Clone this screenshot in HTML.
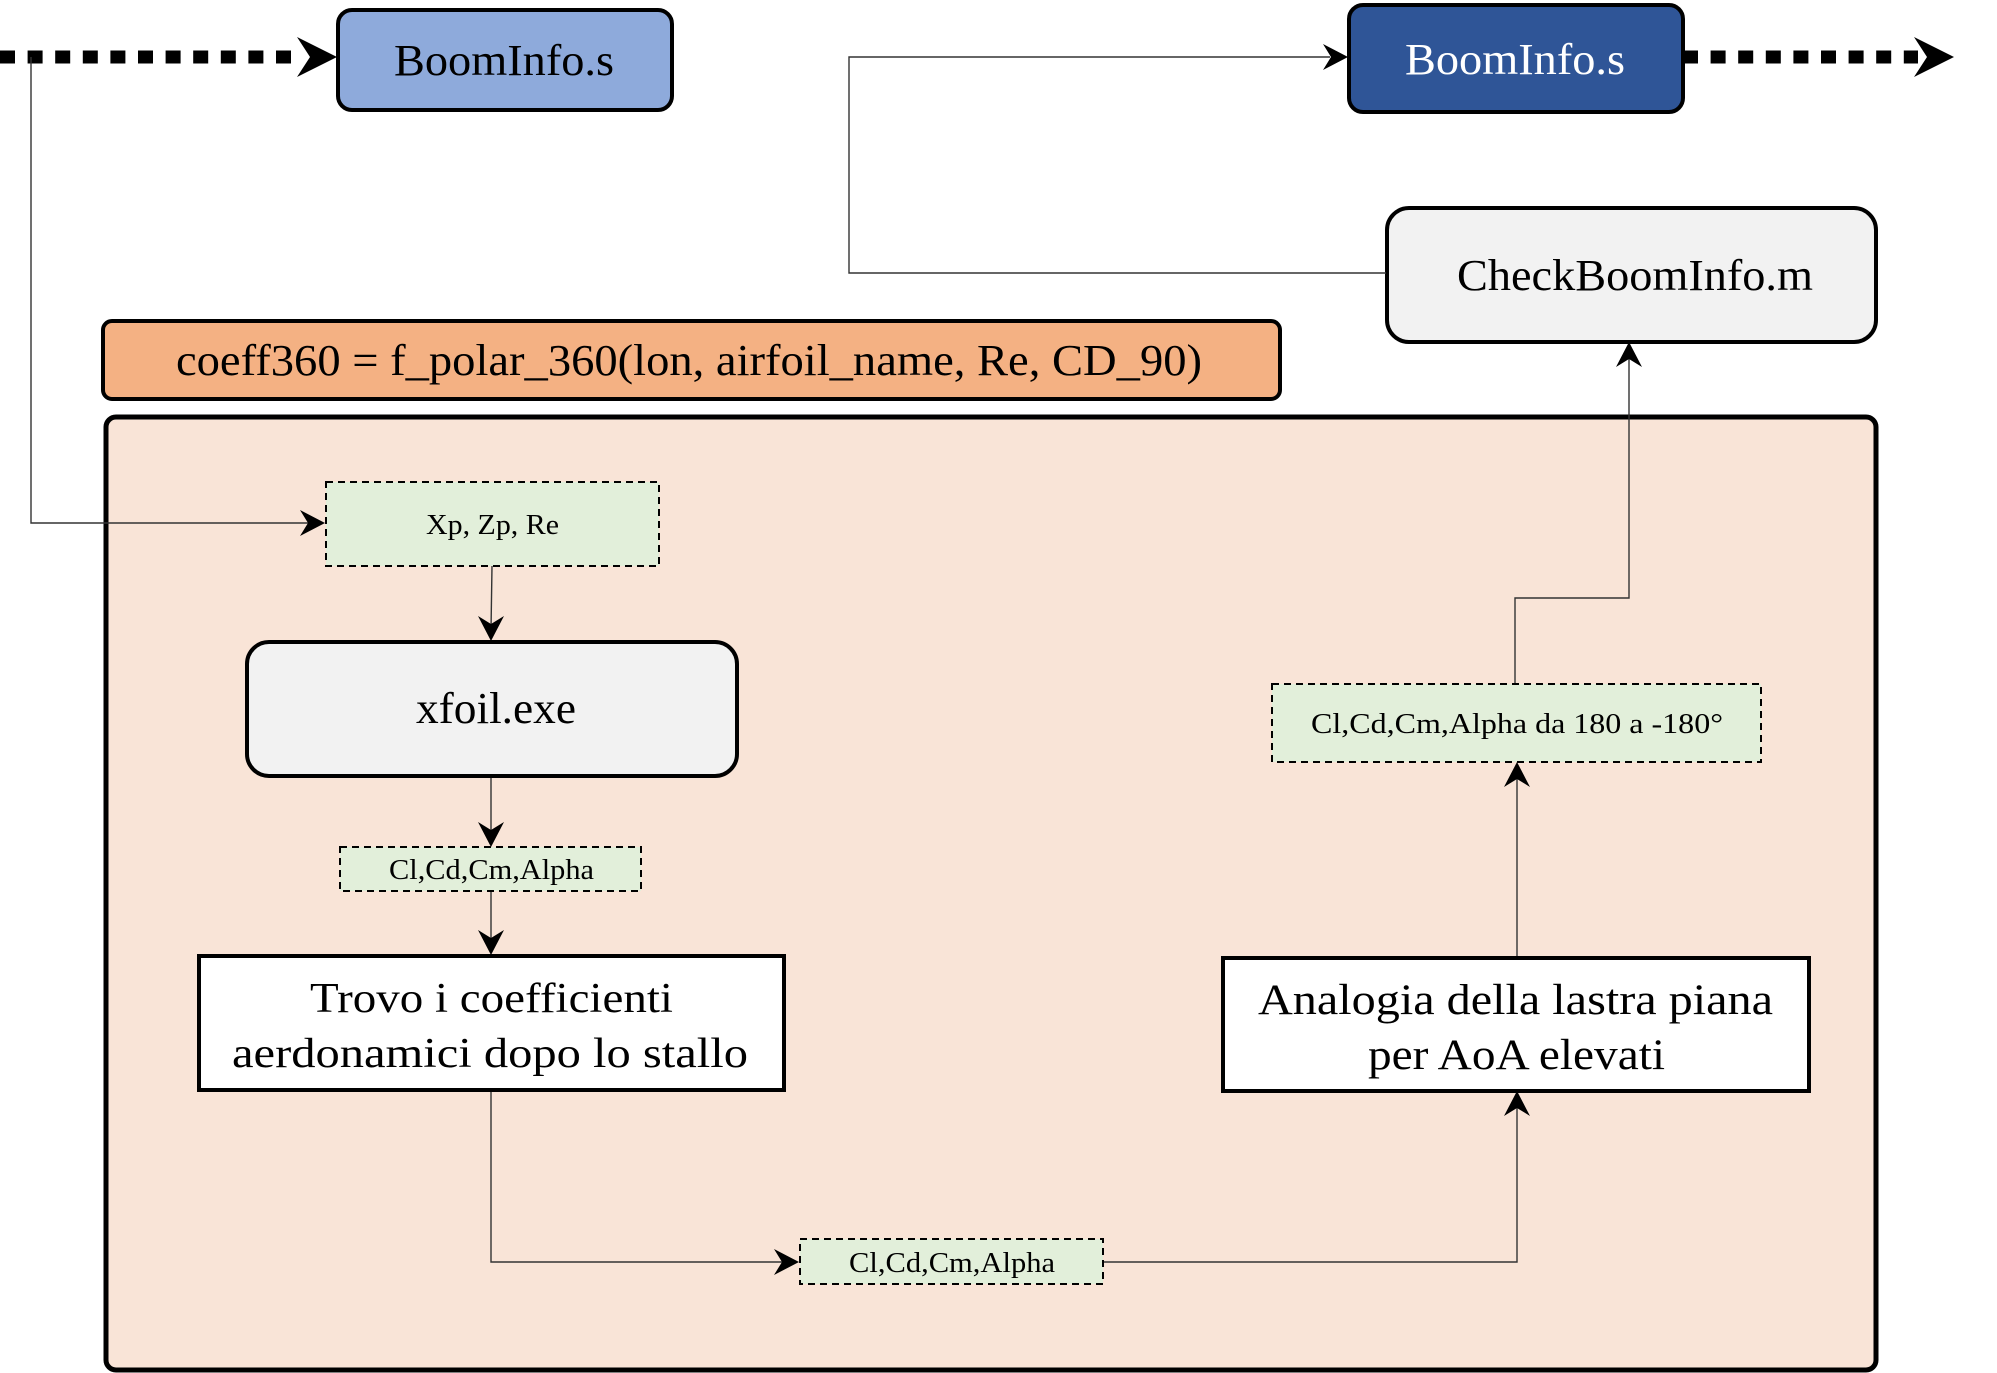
<!DOCTYPE html>
<html><head><meta charset="utf-8"><style>
html,body{margin:0;padding:0;background:#fff;}
svg{display:block;}
text{font-family:"Liberation Serif",serif;fill:#000;}
</style></head><body>
<svg width="1997" height="1373" viewBox="0 0 1997 1373" xmlns="http://www.w3.org/2000/svg">
<rect x="106" y="417" width="1770" height="953" rx="10" fill="#f9e4d7" stroke="#000" stroke-width="5"/>
<rect x="103" y="321" width="1177" height="78" rx="9" fill="#f4b183" stroke="#000" stroke-width="4"/>
<text x="176" y="375" font-size="44" textLength="1026" lengthAdjust="spacingAndGlyphs">coeff360 = f_polar_360(lon, airfoil_name, Re, CD_90)</text>

<line x1="0" y1="57" x2="300" y2="57" stroke="#000" stroke-width="13" stroke-dasharray="15 12.6"/>
<polygon points="337,57 297,37 310,57 297,77" fill="#000"/>
<line x1="1683" y1="57" x2="1918" y2="57" stroke="#000" stroke-width="13" stroke-dasharray="15 12.6"/>
<polygon points="1954,57 1914,37 1927,57 1914,77" fill="#000"/>

<rect x="338" y="10" width="334" height="100" rx="14" fill="#8eaadb" stroke="#000" stroke-width="4"/>
<text x="394" y="75" font-size="44" textLength="220" lengthAdjust="spacingAndGlyphs">BoomInfo.s</text>
<rect x="1349" y="5" width="334" height="107" rx="14" fill="#2f5597" stroke="#000" stroke-width="4"/>
<text x="1405" y="74" font-size="44" textLength="220" lengthAdjust="spacingAndGlyphs" style="fill:#fff">BoomInfo.s</text>

<rect x="1387" y="208" width="489" height="134" rx="22" fill="#f2f2f2" stroke="#000" stroke-width="4"/>
<text x="1457" y="290" font-size="44" textLength="356" lengthAdjust="spacingAndGlyphs">CheckBoomInfo.m</text>

<g fill="none" stroke="#333" stroke-width="1.4">
<polyline points="31,57 31,523 310,523"/>
<polyline points="1386,273 849,273 849,57 1330,57"/>
<line x1="492" y1="566" x2="491" y2="630"/>
<line x1="491" y1="776" x2="491" y2="836"/>
<line x1="491" y1="891" x2="491" y2="944"/>
<polyline points="491,1091 491,1262 790,1262"/>
<polyline points="1103,1262 1517,1262 1517,1100"/>
<line x1="1517" y1="957" x2="1517" y2="772"/>
<polyline points="1515,683 1515,598 1629,598 1629,352"/>
</g>
<g fill="#000">
<polygon points="325,523 300,510 308,523 300,536"/>
<polygon points="1348,57 1323,44 1331,57 1323,70"/>
<polygon points="491,641 478,616 491,624 504,616"/>
<polygon points="491,847 478,822 491,830 504,822"/>
<polygon points="491,955 478,930 491,938 504,930"/>
<polygon points="799,1262 774,1249 782,1262 774,1275"/>
<polygon points="1517,1091 1504,1116 1517,1108 1530,1116"/>
<polygon points="1517,762 1504,787 1517,779 1530,787"/>
<polygon points="1629,342 1616,367 1629,359 1642,367"/>
</g>

<rect x="326" y="482" width="333" height="84" fill="#e2efda" stroke="#000" stroke-width="2" stroke-dasharray="7 5"/>
<text x="426" y="534" font-size="28" textLength="133" lengthAdjust="spacingAndGlyphs">Xp, Zp, Re</text>

<rect x="247" y="642" width="490" height="134" rx="22" fill="#f2f2f2" stroke="#000" stroke-width="4"/>
<text x="416" y="723" font-size="44" textLength="160" lengthAdjust="spacingAndGlyphs">xfoil.exe</text>

<rect x="340" y="847" width="301" height="44" fill="#e2efda" stroke="#000" stroke-width="2" stroke-dasharray="7 5"/>
<text x="389" y="879" font-size="29" textLength="205" lengthAdjust="spacingAndGlyphs">Cl,Cd,Cm,Alpha</text>

<rect x="199" y="956" width="585" height="134" fill="#fff" stroke="#000" stroke-width="4"/>
<text x="310" y="1012" font-size="42" textLength="363" lengthAdjust="spacingAndGlyphs">Trovo i coefficienti</text>
<text x="232" y="1067" font-size="42" textLength="516" lengthAdjust="spacingAndGlyphs">aerdonamici dopo lo stallo</text>

<rect x="800" y="1239" width="303" height="45" fill="#e2efda" stroke="#000" stroke-width="2" stroke-dasharray="7 5"/>
<text x="849" y="1272" font-size="29" textLength="206" lengthAdjust="spacingAndGlyphs">Cl,Cd,Cm,Alpha</text>

<rect x="1223" y="958" width="586" height="133" fill="#fff" stroke="#000" stroke-width="4"/>
<text x="1258" y="1014" font-size="43" textLength="515" lengthAdjust="spacingAndGlyphs">Analogia della lastra piana</text>
<text x="1368" y="1069" font-size="43" textLength="297" lengthAdjust="spacingAndGlyphs">per AoA elevati</text>

<rect x="1272" y="684" width="489" height="78" fill="#e2efda" stroke="#000" stroke-width="2" stroke-dasharray="7 5"/>
<text x="1311" y="733" font-size="29" textLength="412" lengthAdjust="spacingAndGlyphs">Cl,Cd,Cm,Alpha da 180 a -180°</text>
</svg>
</body></html>
